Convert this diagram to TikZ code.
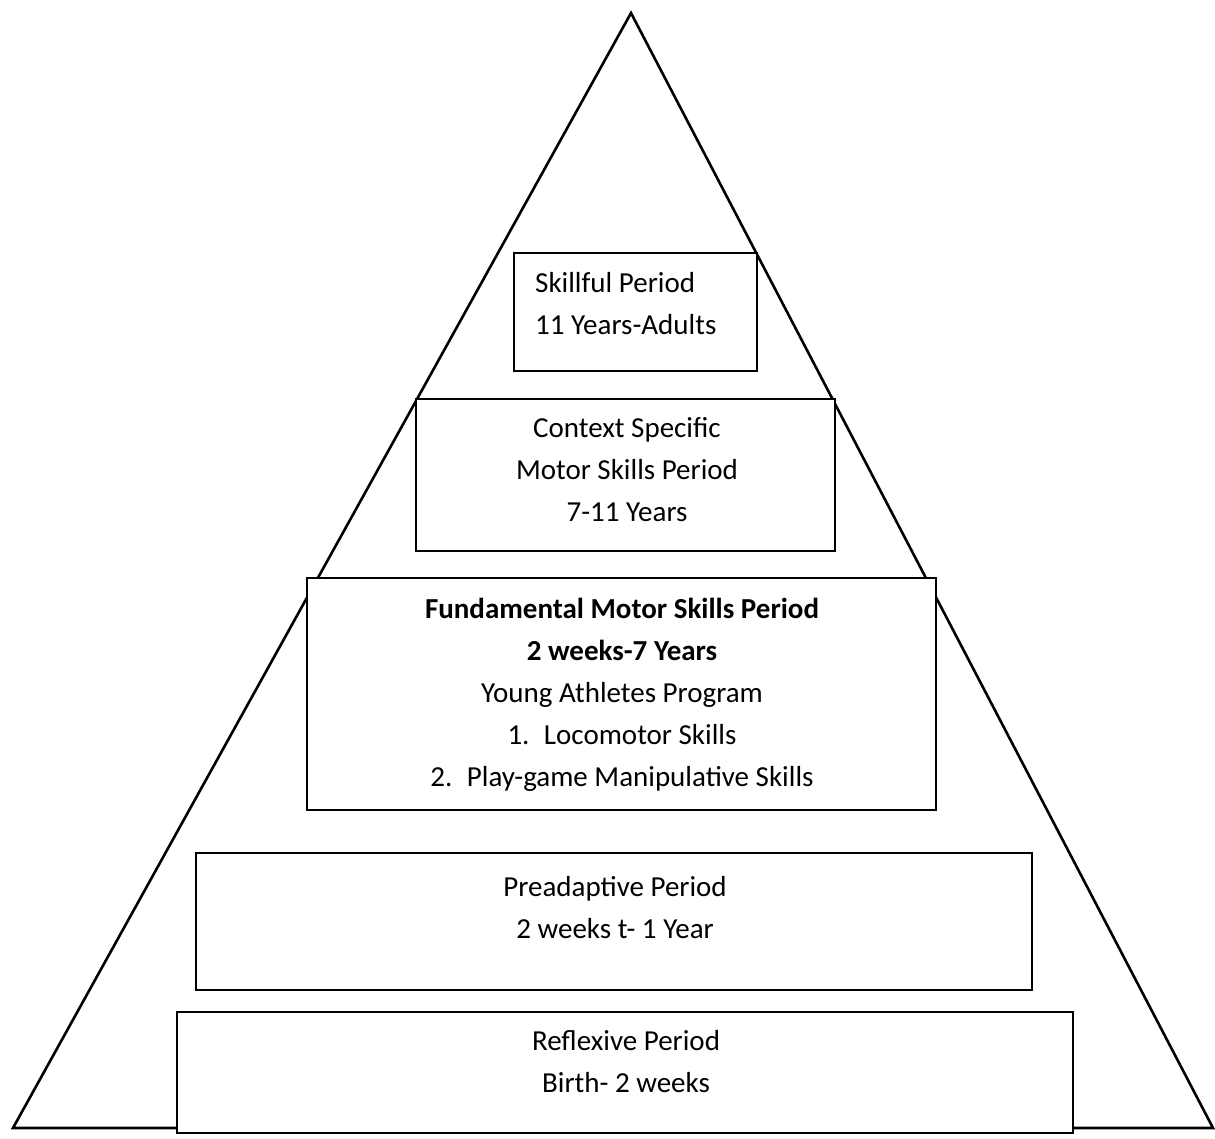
\documentclass[tikz,border=0pt]{standalone}
\usepackage{fontspec}
\setmainfont{Carlito}
\begin{document}
\begin{tikzpicture}[x=1pt,y=-1pt]
\tikzset{
  periodbox/.style={draw=black,line width=1.6pt,fill=white},
  lbl/.style={inner sep=0pt,font=\fontsize{29}{42}\selectfont,align=center}
}
\useasboundingbox (0,0) rectangle (1215,1139);
\fill[white] (0,0) rectangle (1215,1139);
% pyramid
\coordinate (apex) at (631,13);
\coordinate (bl) at (13,1128);
\coordinate (br) at (1213,1128);
\draw[line width=2.6pt,line join=miter] (bl) -- (apex) -- (br) -- cycle;
% boxes
\node[periodbox,minimum width=243pt,minimum height=118pt,inner sep=0pt] (b1) at (635.5,312) {};
\node[periodbox,minimum width=419pt,minimum height=152pt,inner sep=0pt] (b2) at (625.5,475) {};
\node[periodbox,minimum width=629pt,minimum height=232pt,inner sep=0pt] (b3) at (621.5,694) {};
\node[periodbox,minimum width=836pt,minimum height=137pt,inner sep=0pt] (b4) at (614,921.5) {};
\node[periodbox,minimum width=896pt,minimum height=121pt,inner sep=0pt] (b5) at (625,1072.5) {};
% texts
\node[lbl,align=left,anchor=west] (t1) at (535,304) {Skillful Period\\11 Years-Adults};
\node[lbl] (t2) at (627,470) {Context Specific\\Motor Skills Period\\7-11 Years};
\node[lbl] (t3) at (622,694.5) {\textbf{Fundamental Motor Skills Period}\\\textbf{2 weeks-7 Years}\\Young Athletes Program\\1.\enspace Locomotor Skills\\2.\enspace Play-game Manipulative Skills};
\node[lbl] (t4) at (615,907.5) {Preadaptive Period\\2 weeks t- 1 Year};
\node[lbl] (t5) at (626,1061.5) {Reflexive Period\\Birth- 2 weeks};
\end{tikzpicture}
\end{document}
